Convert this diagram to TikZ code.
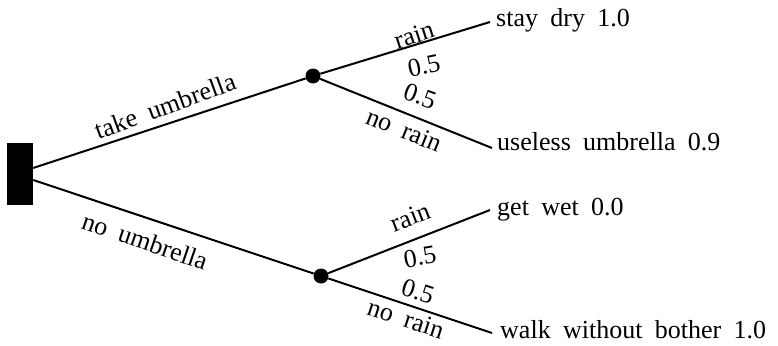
\documentclass[tikz,border=0pt]{standalone}
\usepackage{fontspec}
\setmainfont{Liberation Serif}[WordSpace=1.9]
\begin{document}
\begin{tikzpicture}[x=1pt,y=-1pt,
  every node/.style={font=\fontsize{26}{30}\selectfont, inner sep=0pt},
  link/.style={line width=2pt},
  decision/.style={fill=black, minimum width=26pt, minimum height=62pt},
  chance/.style={circle, fill=black, minimum size=15pt},
  leaf/.style={anchor=base west},
]
\useasboundingbox (0,0) rectangle (778,345);
% nodes
\node[decision] (dec) at (20,174) {};
\node[chance] (c1) at (313,76) {};
\node[chance] (c2) at (321,276) {};
% leaves
\coordinate (e1) at (490,22);
\coordinate (e2) at (492,148);
\coordinate (e3) at (490,210);
\coordinate (e4) at (492,333);
\node[leaf] (l1) at (496,27) {stay dry 1.0};
\node[leaf] (l2) at (497,150) {useless umbrella 0.9};
\node[leaf] (l3) at (497,215) {get wet 0.0};
\node[leaf] (l4) at (500,338) {walk without bother 1.0};
% connectors
\draw[link] ([yshift=6pt]dec.east) -- (c1);
\draw[link] ([yshift=-6pt]dec.east) -- (c2);
\draw[link] (c1) -- (e1);
\draw[link] (c1) -- (e2);
\draw[link] (c2) -- (e3);
\draw[link] (c2) -- (e4);
% labels
\node[rotate=20] (t1) at (165,106) {take umbrella};
\node[rotate=-19] (t2) at (145,241) {no umbrella};
\node[rotate=18] (r1) at (414,35) {rain};
\node[rotate=12] (p1) at (424,66) {0.5};
\node[rotate=-20] (p2) at (420,96) {0.5};
\node[rotate=-22] (n1) at (404,130) {no rain};
\node[rotate=21] (r2) at (410,217) {rain};
\node[rotate=10] (p3) at (420,257) {0.5};
\node[rotate=-18] (p4) at (418,291) {0.5};
\node[rotate=-18] (n2) at (406,319) {no rain};
\end{tikzpicture}
\end{document}
